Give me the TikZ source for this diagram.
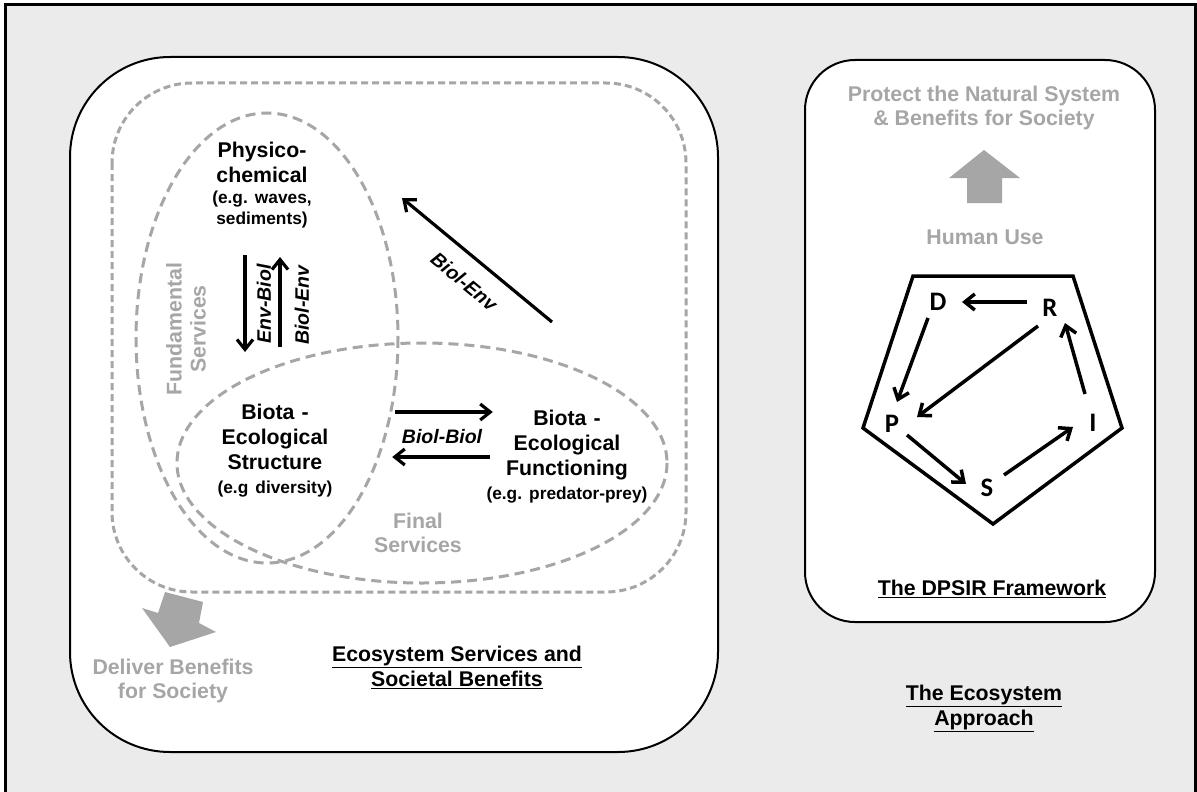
\documentclass[tikz,border=0pt]{standalone}
\usepackage{fontspec}
\setmainfont{Liberation Sans}
\newfontfamily\calibrifont{Carlito}
\usetikzlibrary{arrows.meta}
\definecolor{panelgrey}{RGB}{235,235,235}
\definecolor{softgrey}{RGB}{166,166,166}
\frenchspacing

\begin{document}
\begin{tikzpicture}[x=1pt,y=-1pt]
    \useasboundingbox (0,0) rectangle (1197,792);
    \fill[white] (0,0) rectangle (1197,792);
    \draw[line width=3pt,fill=panelgrey] (5,5) rectangle (1195,800);
    % panels
    \draw[line width=2pt,fill=white,rounded corners=100pt] (70,57) rectangle (718,752);
    \draw[line width=2pt,fill=white,rounded corners=50pt] (805,60) rectangle (1155,622);
    % service zones
    \begin{scope}[softgrey,line width=3pt]
      \draw[dash pattern=on 7pt off 4pt,rounded corners=80pt] (112,83) rectangle (686,592);
      \draw[dash pattern=on 10pt off 6pt] (267,338) ellipse [x radius=131,y radius=225];
      \draw[dash pattern=on 10pt off 6pt] (422,463) ellipse [x radius=245,y radius=120];
      \fill (165,592) -- (203,602) -- (199,623) -- (216,632) -- (170,647) -- (142,608) -- (158,613) -- cycle;
      \fill (984,150) -- (1020,178) -- (1002,178) -- (1002,203) -- (967,203) -- (967,178) -- (949,178) -- cycle;
    \end{scope}
    \begin{scope}[every node/.style={font=\fontsize{21.3}{25}\selectfont\bfseries,align=center,inner sep=0pt}]
      \node[text width=120pt] (physico) at (262,185) {Physico-\\chemical\par\fontsize{17.3}{21}\selectfont (e.g. waves,\\sediments)\par};
      \node[text width=140pt] (bstruct) at (275,451) {Biota -\\Ecological\\Structure\par\fontsize{17.3}{24}\selectfont (e.g diversity)\par};
      \node[text width=180pt] (bfunc) at (567,457) {Biota -\\Ecological\\Functioning\par\fontsize{17.3}{24}\selectfont (e.g. predator-prey)\par};
      \node (esb) at (457,667) {\underline{Ecosystem Services and}\\\underline{Societal Benefits}};
      \node (dpsirname) at (992,589) {\underline{The DPSIR Framework}};
      \node (econame) at (984,708) {\underline{The Ecosystem}\\\underline{Approach}};
    \end{scope}
    \begin{scope}[every node/.style={font=\fontsize{21.3}{24}\selectfont\bfseries,text=softgrey,align=center,inner sep=0pt}]
      \node[rotate=90] (fundamental) at (186,329) {Fundamental\\Services};
      \node (final) at (418,533) {Final\\Services};
      \node (deliver) at (173,681) {Deliver Benefits\\for Society};
      \node (protect) at (984,108) {Protect the Natural System\\\& Benefits for Society};
      \node (humanuse) at (985,237) {Human Use};
    \end{scope}
    \coordinate (envfoot) at (552,322);
    \coordinate (envhead) at (402,198);
    \begin{scope}[every node/.style={font=\fontsize{19.5}{22}\selectfont\bfseries\itshape,inner sep=0pt},
        every edge/.style={draw,line width=3.2pt,-{Straight Barb[length=10pt,width=16pt]}}]
      \path ([xshift=50pt,yshift=39pt]bstruct.east) edge ([xshift=16pt,yshift=45pt]bfunc.west);
      \path ([xshift=13pt]bfunc.west) edge ([xshift=47pt,yshift=-6pt]bstruct.east);
      \path ([xshift=-17pt,yshift=-70pt]physico.center) edge ([xshift=-30pt,yshift=99pt]bstruct.center);
      \path ([xshift=5pt,yshift=104pt]bstruct.center) edge ([xshift=18pt,yshift=-72pt]physico.center);
      \path (envfoot) edge node[sloped,below=16pt,pos=0.48] {Biol-Env} (envhead);
      \node (biolbiol) at (442,437) {Biol-Biol};
      \node[rotate=90] (envbiol) at (264,304) {Env-Biol};
      \node[rotate=90] (biolenv) at (302,305) {Biol-Env};
    \end{scope}
    % DPSIR cycle
    \draw[line width=3.5pt] (913,276) -- (1073,276) -- (1122,428) -- (993,524) -- (863,428) -- cycle;
    \begin{scope}[every node/.style={font=\calibrifont\fontsize{26.7}{28}\selectfont\bfseries,inner sep=0pt}]
      \node (D) at (938,302) {D};
      \node (R) at (1050,308) {R};
      \node (P) at (892,424) {P};
      \node (I) at (1093,423) {I};
      \node (S) at (987,488) {S};
    \end{scope}
    \begin{scope}[every edge/.style={draw,line width=3.5pt,-{Straight Barb[length=10pt,width=16pt]}}]
      \path ([xshift=-23pt,yshift=6pt]R.center) edge ([xshift=24pt]D.center);
      \path ([xshift=-10pt,yshift=-16pt]D.center) edge ([xshift=5pt,yshift=22pt]P.center);
      \path ([xshift=-12pt,yshift=-18pt]R.center) edge ([xshift=25pt,yshift=7pt]P.center);
      \path ([xshift=15pt,yshift=-11pt]P.center) edge ([xshift=-21pt,yshift=4pt]S.center);
      \path ([xshift=17pt,yshift=13pt]S.center) edge ([xshift=-20pt,yshift=-4pt]I.center);
      \path ([xshift=-8pt,yshift=29pt]I.center) edge ([xshift=15pt,yshift=-15pt]R.center);
    \end{scope}
\end{tikzpicture}
\end{document}
